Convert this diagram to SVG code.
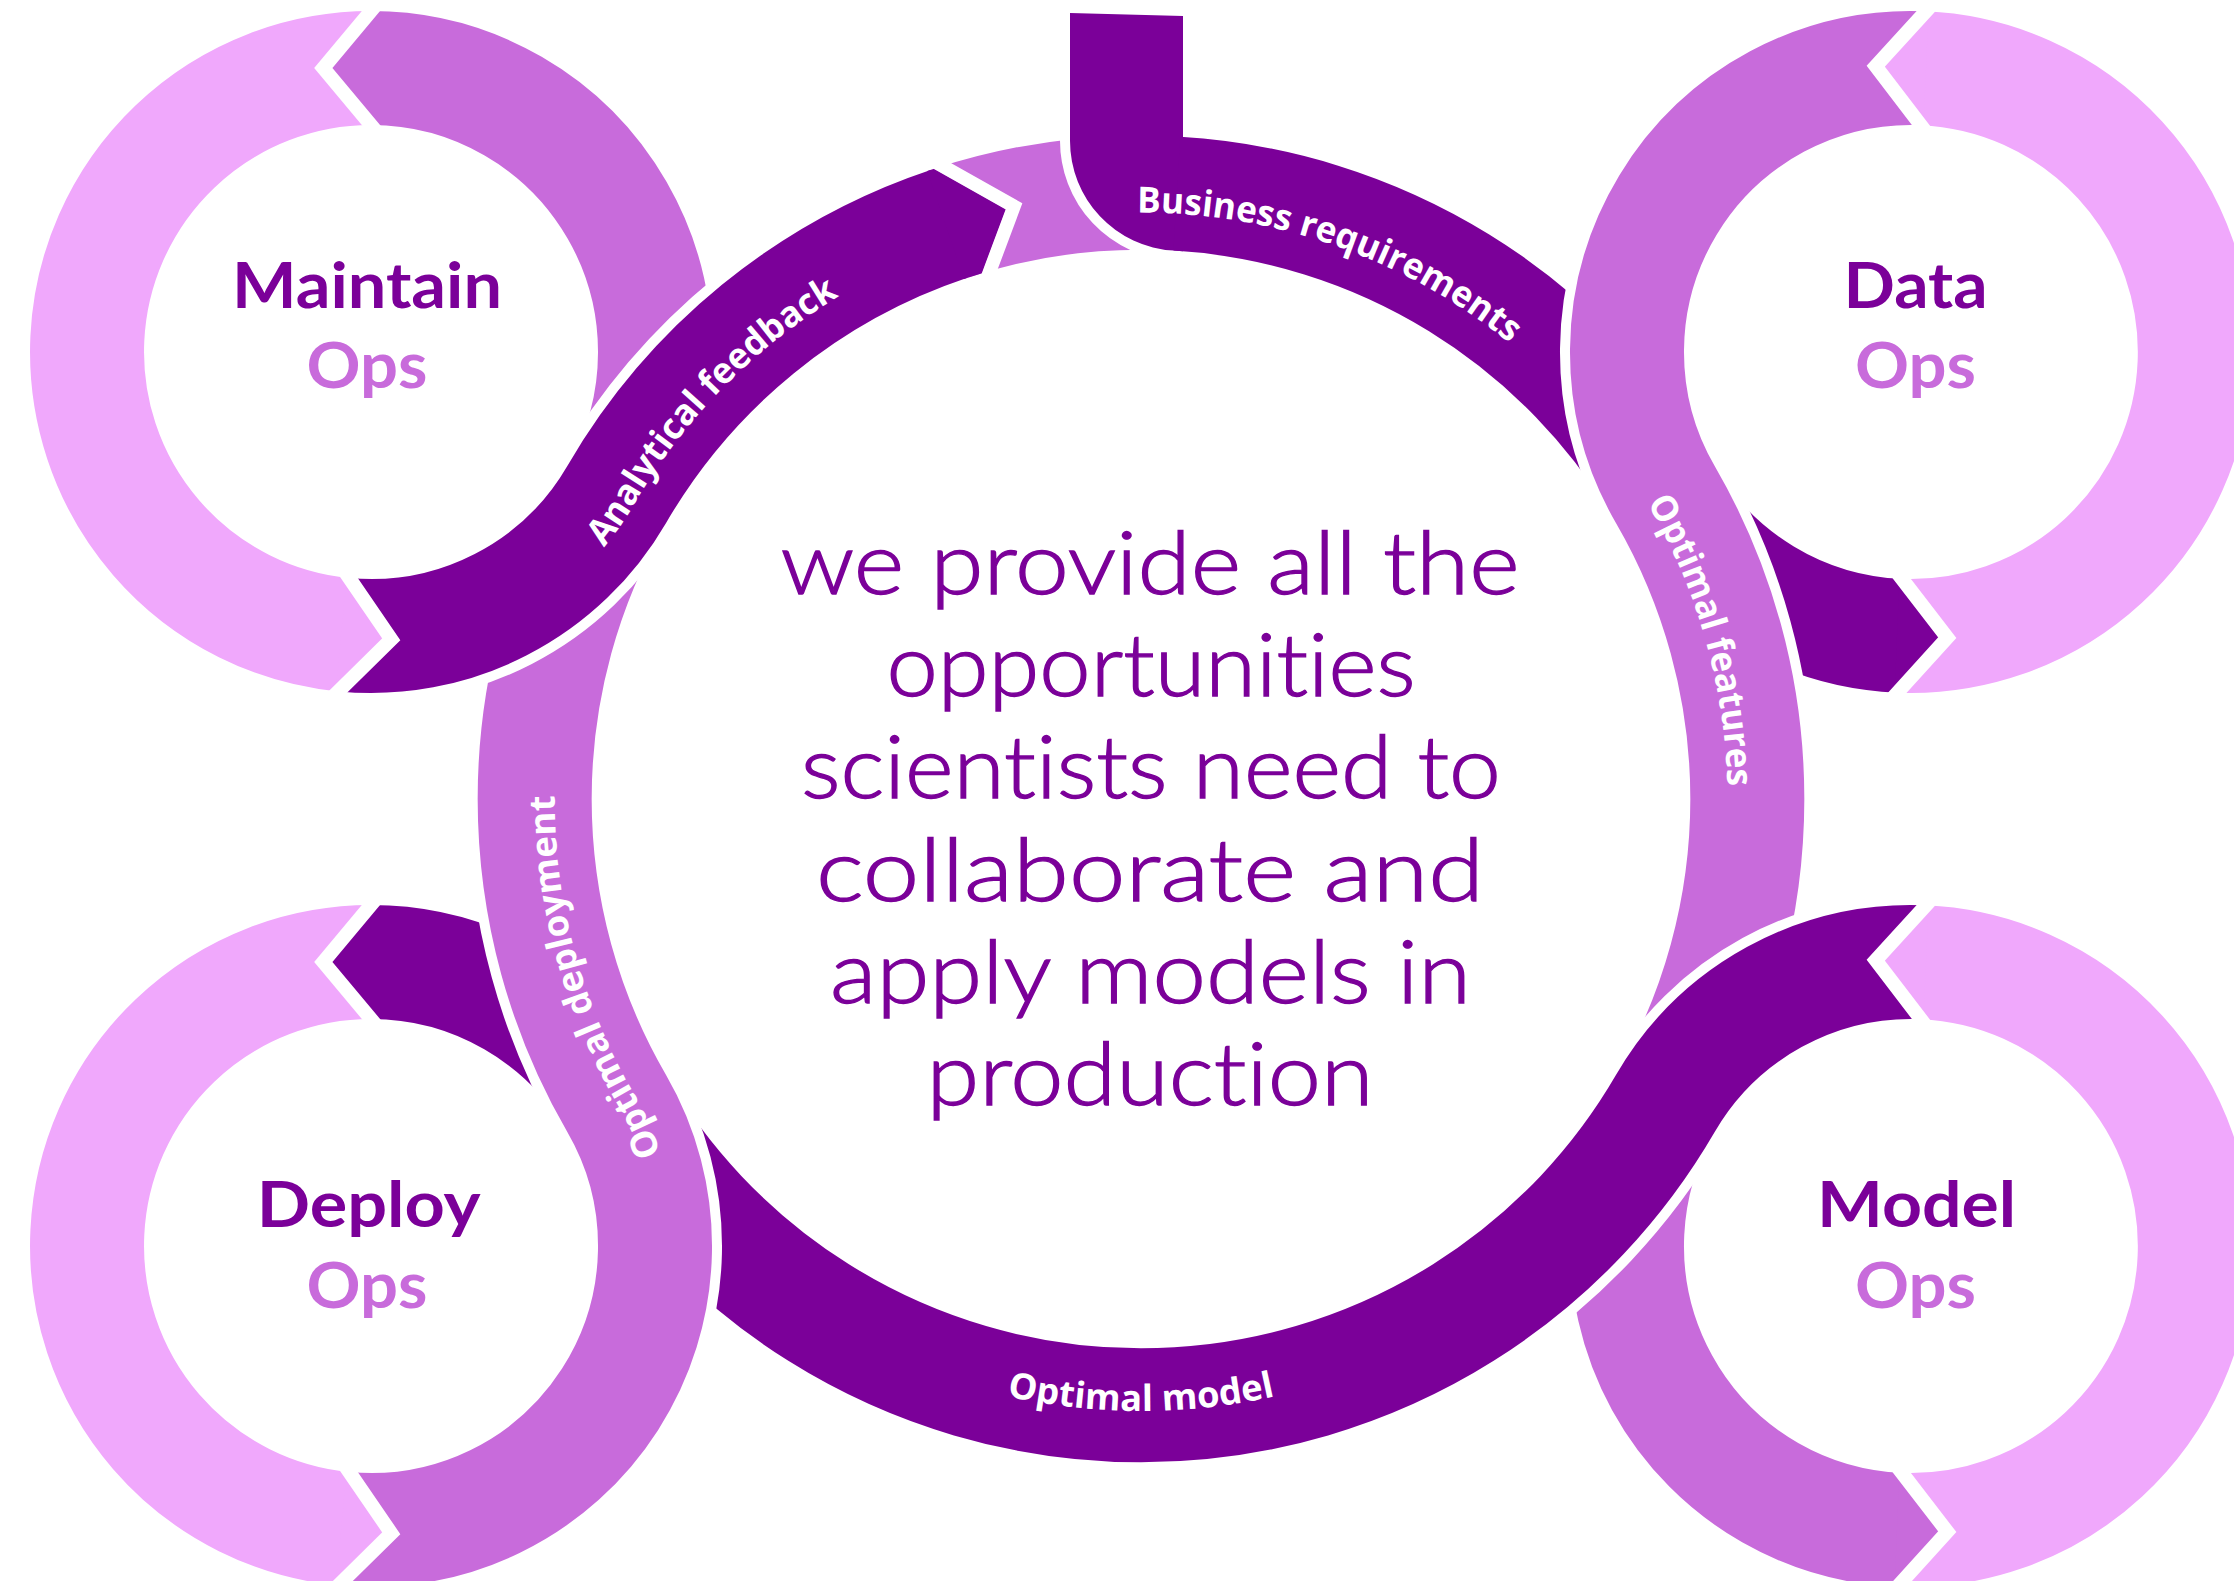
<svg xmlns="http://www.w3.org/2000/svg" width="2234" height="1581" viewBox="0 0 2234 1581">
<style>
.band{fill:none;stroke-width:114;stroke-linecap:butt}
.halo{fill:none;stroke:#fff;stroke-width:134;stroke-linecap:butt}
.dk{stroke:#7B0099}
.md{stroke:#C86BDB}
.pk{stroke:#F0A8FC}
.fdk{fill:#7B0099}
.fmd{fill:#C86BDB}
.fpk{fill:#F0A8FC}
.blbl{font-family:'Open Sans','Liberation Sans',sans-serif;font-weight:700;font-size:36px;fill:#fff;font-variant-ligatures:none}
.title{font-family:Lato,'Liberation Sans',sans-serif;font-weight:700;font-size:64px;text-anchor:middle;font-variant-ligatures:none}
.t1{fill:#7B0099}
.t2{fill:#C86BDB}
.ctr{font-family:Lato,'Liberation Sans',sans-serif;font-weight:300;font-size:86px;fill:#7B0099;stroke:#7B0099;stroke-width:1.3;text-anchor:middle;font-variant-ligatures:none}
</style>
<defs>
<polygon id="chevTip" points="2.6,-344.1 -47.7,-284 2.6,-223.9"/>
<polyline id="chevGap" points="6.4,-348.7 -47.7,-284 6.4,-219.3" fill="none" stroke="#fff" stroke-width="14" stroke-linejoin="miter"/>
<path id="tpBR" d="M 1136.91 212.67 A 586.34 586.34 0 0 1 1513.96 346.57"/>
<path id="tpOM" d="M 1006.45 1396.02 A 612 612 0 0 0 1276.58 1395.79"/>
<path id="tpOF" d="M 1635.48 480.48 A 304 304 0 0 0 1648.09 504.62 A 586.34 586.34 0 0 1 1725.11 850.10"/>
<path id="tpOD" d="M 660.61 1153.57 A 304 304 0 0 0 633.91 1093.38 A 586.34 586.34 0 0 1 556.89 747.9"/>
<path id="tpAF" d="M 603.88 547.41 A 304 304 0 0 0 633.91 504.62 A 586.34 586.34 0 0 1 865.73 281.29"/>
</defs>
<rect x="0" y="0" width="2234" height="1581" fill="#fff"/>

<g id="connectors">
  <!-- small top piece under the stem -->
  <path class="band md" d="M 952.62 222.66 A 606.34 606.34 0 0 1 1162.16 193.03"/>
  <!-- Business requirements: stem + ring -->
  <path class="fdk" d="M 1070 13 L 1183 16 L 1183 251.3 L 1173.49 250.62 A 110 110 0 0 1 1070 140.81 Z" stroke="#fff" stroke-width="20" paint-order="stroke"/>
  <path class="band dk" d="M 1176.85 193.72 A 606.34 606.34 0 0 1 1665.38 494.59 A 284 284 0 0 0 1899.60 635.77"/>
  <!-- Optimal features -->
  <path class="halo" d="M 1923.39 68.27 A 284 284 0 0 0 1665.38 494.59 A 606.34 606.34 0 0 1 1665.38 1103.41 A 284 284 0 0 0 1899.60 1529.77"/>
  <path class="band md" d="M 1923.39 68.27 A 284 284 0 0 0 1665.38 494.59 A 606.34 606.34 0 0 1 1665.38 1103.41 A 284 284 0 0 0 1899.60 1529.77"/>
  <!-- Optimal model -->
  <path class="halo" d="M 1923.39 962.27 A 284 284 0 0 0 1665.38 1103.41 A 606.34 606.34 0 0 1 616.62 1103.41 A 284 284 0 0 0 371 962"/>
  <path class="band dk" d="M 1923.39 962.27 A 284 284 0 0 0 1665.38 1103.41 A 606.34 606.34 0 0 1 616.62 1103.41 A 284 284 0 0 0 371 962"/>
  <!-- Optimal deployment -->
  <path class="halo" d="M 343.78 1528.69 A 284 284 0 0 0 616.62 1103.41 A 606.34 606.34 0 0 1 616.62 494.59 A 284 284 0 0 0 371 68"/>
  <path class="band md" d="M 343.78 1528.69 A 284 284 0 0 0 616.62 1103.41 A 606.34 606.34 0 0 1 616.62 494.59 A 284 284 0 0 0 371 68"/>
  <!-- Analytical feedback -->
  <path class="halo" d="M 343.78 634.69 A 284 284 0 0 0 616.62 494.59 A 606.34 606.34 0 0 1 948.61 224.00"/>
  <path class="band dk" d="M 343.78 634.69 A 284 284 0 0 0 616.62 494.59 A 606.34 606.34 0 0 1 948.61 224.00"/>
  <polygon class="fdk" points="927.22,171.04 934.05,168.77 1006,209.3 982.15,273.13 963.96,278.96"/>
  <polyline points="933.34,160.86 1014,206.3 986.65,279.5" fill="none" stroke="#fff" stroke-width="13.5" stroke-linejoin="miter"/>
  <!-- labels -->
  <text class="blbl"><textPath href="#tpBR" textLength="403" lengthAdjust="spacingAndGlyphs">Business requirements</textPath></text>
  <text class="blbl"><textPath href="#tpOF" startOffset="25" textLength="298" lengthAdjust="spacingAndGlyphs">Optimal features</textPath></text>
  <text class="blbl"><textPath href="#tpOM" textLength="271" lengthAdjust="spacingAndGlyphs">Optimal model</textPath></text>
  <text class="blbl"><textPath href="#tpOD" textLength="378" lengthAdjust="spacingAndGlyphs">Optimal deployment</textPath></text>
  <text class="blbl"><textPath href="#tpAF" textLength="348" lengthAdjust="spacingAndGlyphs">Analytical feedback</textPath></text>
</g>

<g id="maintain-ops">
  <path class="band pk" d="M 371 68 A 284 284 0 0 0 343.78 634.69"/>
  <use href="#chevTip" class="fmd" transform="translate(371 352)"/>
  <use href="#chevGap" transform="translate(371 352)"/>
  <use href="#chevTip" class="fpk" transform="translate(371 352) rotate(-174.5)"/>
  <use href="#chevGap" transform="translate(371 352) rotate(-174.5)"/>
  <text class="title t1" x="367" y="308" textLength="270" lengthAdjust="spacingAndGlyphs">Maintain</text>
  <text class="title t2" x="367" y="388" textLength="121" lengthAdjust="spacingAndGlyphs">Ops</text>
</g>

<g id="data-ops">
  <path class="band pk" d="M 1899.60 635.77 A 284 284 0 0 0 1923.39 68.27"/>
  <use href="#chevTip" class="fpk" transform="translate(1911 352) rotate(2.5)"/>
  <use href="#chevGap" transform="translate(1911 352) rotate(2.5)"/>
  <use href="#chevTip" class="fdk" transform="translate(1911 352) rotate(-177.7)"/>
  <use href="#chevGap" transform="translate(1911 352) rotate(-177.7)"/>
  <text class="title t1" x="1915.6" y="308" textLength="144" lengthAdjust="spacingAndGlyphs">Data</text>
  <text class="title t2" x="1915.5" y="388" textLength="121" lengthAdjust="spacingAndGlyphs">Ops</text>
</g>

<g id="deploy-ops">
  <path class="band pk" d="M 371 962 A 284 284 0 0 0 343.78 1528.69"/>
  <use href="#chevTip" class="fdk" transform="translate(371 1246)"/>
  <use href="#chevGap" transform="translate(371 1246)"/>
  <use href="#chevTip" class="fpk" transform="translate(371 1246) rotate(-174.5)"/>
  <use href="#chevGap" transform="translate(371 1246) rotate(-174.5)"/>
  <text class="title t1" x="368.7" y="1227" textLength="224" lengthAdjust="spacingAndGlyphs">Deploy</text>
  <text class="title t2" x="367" y="1307.5" textLength="121" lengthAdjust="spacingAndGlyphs">Ops</text>
</g>

<g id="model-ops">
  <path class="band pk" d="M 1899.60 1529.77 A 284 284 0 0 0 1923.39 962.27"/>
  <use href="#chevTip" class="fpk" transform="translate(1911 1246) rotate(2.5)"/>
  <use href="#chevGap" transform="translate(1911 1246) rotate(2.5)"/>
  <use href="#chevTip" class="fmd" transform="translate(1911 1246) rotate(-177.7)"/>
  <use href="#chevGap" transform="translate(1911 1246) rotate(-177.7)"/>
  <text class="title t1" x="1916.6" y="1227" textLength="199" lengthAdjust="spacingAndGlyphs">Model</text>
  <text class="title t2" x="1915.5" y="1307.5" textLength="121" lengthAdjust="spacingAndGlyphs">Ops</text>
</g>

<g id="center-text">
  <text class="ctr" x="1150" y="594" textLength="739" lengthAdjust="spacingAndGlyphs">we provide all the</text>
  <text class="ctr" x="1151" y="696" textLength="529" lengthAdjust="spacingAndGlyphs">opportunities</text>
  <text class="ctr" x="1151" y="798" textLength="700" lengthAdjust="spacingAndGlyphs">scientists need to</text>
  <text class="ctr" x="1150" y="900.5" textLength="668" lengthAdjust="spacingAndGlyphs">collaborate and</text>
  <text class="ctr" x="1150.5" y="1002.7" textLength="641" lengthAdjust="spacingAndGlyphs">apply models in</text>
  <text class="ctr" x="1150" y="1105" textLength="447" lengthAdjust="spacingAndGlyphs">production</text>
</g>
</svg>
